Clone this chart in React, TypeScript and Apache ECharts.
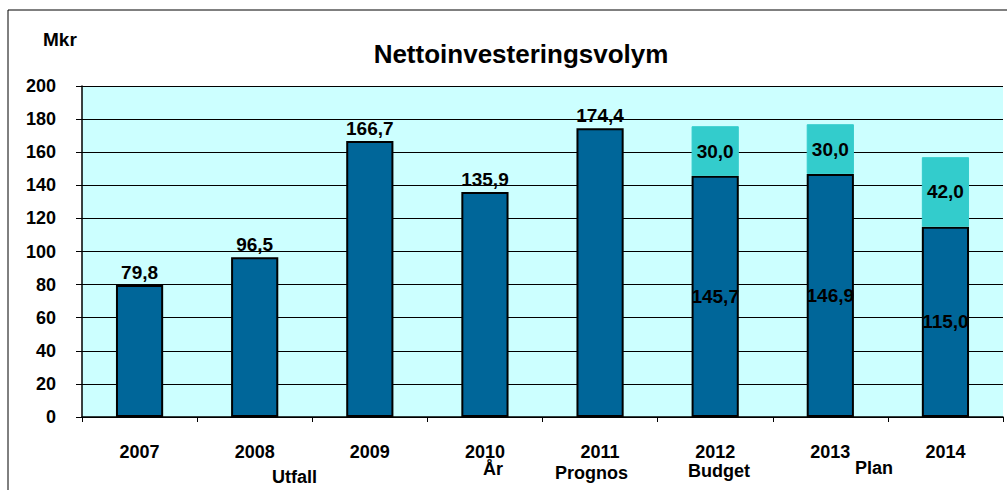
import React, { useEffect, useRef } from "react";
import * as echarts from "echarts";

const years = ["2007", "2008", "2009", "2010", "2011", "2012", "2013", "2014"];
const baseValues = [79.8, 96.5, 166.7, 135.9, 174.4, 145.7, 146.9, 115.0];
const addedValues: (number | null)[] = [null, null, null, null, null, 30.0, 30.0, 42.0];
const yTicks = [0, 20, 40, 60, 80, 100, 120, 140, 160, 180, 200];

const fmt = (v: number) => v.toFixed(1).replace(".", ",");
const FONT = "'Liberation Sans', Arial, sans-serif";

export default function App() {
  const ref = useRef<HTMLDivElement>(null);
  useEffect(() => {
    const chart = echarts.init(ref.current!, null, { renderer: "svg" });
    const stackedCount = addedValues.filter((v) => v != null).length;
    const firstStacked = years.length - stackedCount;
    const sub = (text: string, x: number, y: number) => ({
      type: "text",
      x,
      y,
      style: { text, font: `bold 18px ${FONT}`, fill: "#000" },
    });
    chart.setOption({
      animation: false,
      backgroundColor: "#ffffff",
      textStyle: { fontFamily: FONT },
      title: {
        text: "Nettoinvesteringsvolym",
        left: 516,
        textAlign: "center",
        top: 36,
        textStyle: { fontSize: 26, fontWeight: "bold", color: "#000", fontFamily: FONT },
      },
      graphic: [
        {
          type: "rect",
          shape: { x: 8, y: 10, width: 1010, height: 500 },
          style: { fill: "none", stroke: "#000", lineWidth: 1 },
          silent: true,
        },
        { type: "text", x: 43, y: 30, style: { text: "Mkr", font: `bold 19px ${FONT}`, fill: "#000" } },
        sub("Utfall", 272, 468),
        sub("År", 483, 460),
        sub("Prognos", 555, 464),
        sub("Budget", 688, 462),
        sub("Plan", 855, 459),
      ],
      grid: {
        left: 82,
        right: 4,
        top: 86,
        bottom: 73,
        show: true,
        backgroundColor: "#CCFFFF",
        borderWidth: 0,
      },
      xAxis: {
        type: "category",
        data: years,
        axisLine: { lineStyle: { color: "#000", width: 1.5 } },
        axisTick: { show: true, length: 5, lineStyle: { color: "#000" } },
        axisLabel: { margin: 26, fontSize: 18, fontWeight: "bold", color: "#000", fontFamily: FONT },
      },
      yAxis: {
        type: "value",
        min: yTicks[0],
        max: yTicks[yTicks.length - 1],
        interval: 20,
        axisLine: { show: true, lineStyle: { color: "#000", width: 1.5 } },
        axisTick: { show: true, length: 6, lineStyle: { color: "#000" } },
        splitLine: { lineStyle: { color: "#000", width: 1 } },
        axisLabel: { margin: 26, fontSize: 18, fontWeight: "bold", color: "#000", fontFamily: FONT },
      },
      series: [
        {
          type: "bar",
          stack: "total",
          barWidth: "41%",
          data: baseValues.map((v, i) => ({
            value: v,
            label: {
              show: true,
              position: i >= firstStacked ? "inside" : "top",
              distance: 3,
            },
          })),
          itemStyle: { color: "#006699", borderColor: "#000", borderWidth: 2 },
          label: {
            formatter: (p: any) => fmt(p.value),
            fontSize: 19,
            fontWeight: "bold",
            color: "#000",
            fontFamily: FONT,
          },
        },
        {
          type: "bar",
          stack: "total",
          barWidth: "41%",
          data: addedValues,
          itemStyle: { color: "#33CCCC", borderColor: "#33CCCC", borderWidth: 1 },
          label: {
            show: true,
            position: "inside",
            formatter: (p: any) => (p.value == null ? "" : fmt(p.value)),
            fontSize: 19,
            fontWeight: "bold",
            color: "#000",
            fontFamily: FONT,
          },
        },
      ],
    });
    return () => chart.dispose();
  }, []);
  return (
    <div
      ref={ref}
      style={{ position: "fixed", left: 0, top: 0, width: 1007, height: 490 }}
    />
  );
}
